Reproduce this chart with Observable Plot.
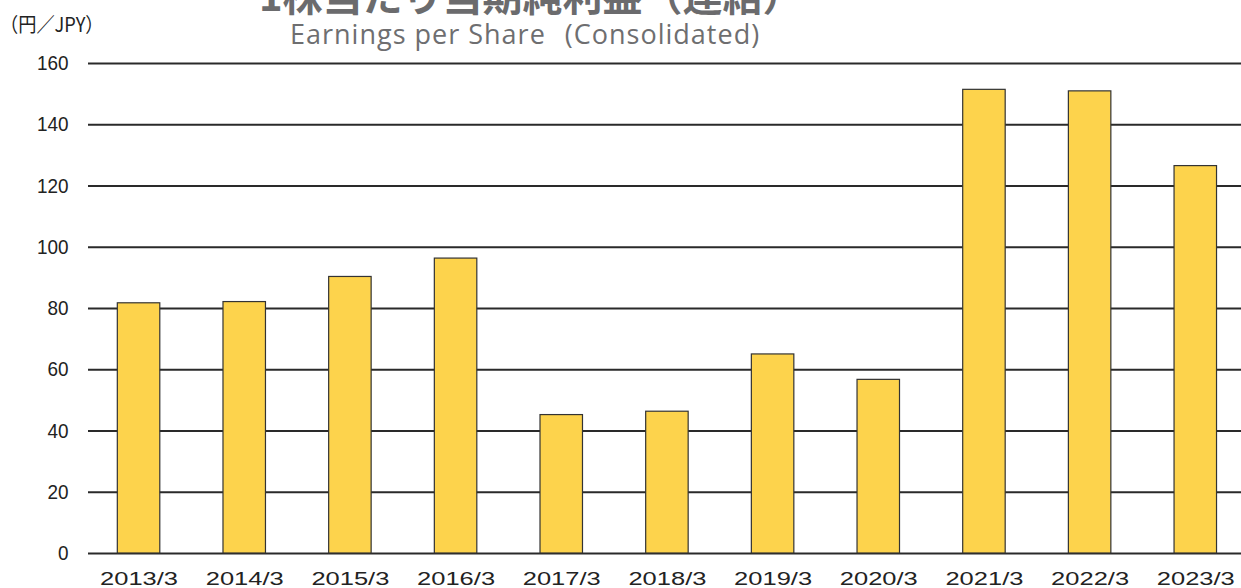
<!DOCTYPE html>
<html><head><meta charset="utf-8">
<script src="https://cdn.jsdelivr.net/npm/d3@7"></script>
<script src="https://cdn.jsdelivr.net/npm/@observablehq/plot@0.6"></script>
<style>
body{margin:0;background:#fff;}
#wrap{width:1241px;position:relative;overflow:hidden;}
#header{position:relative;height:50px;}
.t{position:absolute;white-space:nowrap;line-height:1;}
#unit{left:0;top:13.5px;font-family:"Noto Sans CJK JP",sans-serif;font-size:20px;color:#222;transform:scaleX(0.91);transform-origin:0 0;}
#title{left:259px;top:-26px;font-family:"Noto Sans CJK JP",sans-serif;font-weight:700;font-size:40px;color:#6b6b6d;}
#subtitle{left:290px;top:19.5px;font-family:"Open Sans",sans-serif;font-size:27px;letter-spacing:1px;color:#6e6e70;}
#subtitle .gap{display:inline-block;width:19px;}
</style></head><body>
<div id="wrap">
<div id="header">
<div class="t" id="unit">（円／JPY）</div>
<div class="t" id="title">1株当たり当期純利益（連結）</div>
<div class="t" id="subtitle">Earnings per Share<span class="gap"></span>(Consolidated)</div>
</div>
<div id="chart"></div>
</div>
<script>
const periods = ["2013/3","2014/3","2015/3","2016/3","2017/3","2018/3","2019/3","2020/3","2021/3","2022/3","2023/3"];
const eps = [81.7, 82.1, 90.3, 96.3, 45.2, 46.3, 65.0, 56.7, 151.4, 150.9, 126.5];
const yTicks = [0, 20, 40, 60, 80, 100, 120, 140, 160];

const data = periods.map((p, i) => ({period: p, eps: eps[i]}));

const chart = Plot.plot({
  width: 1241,
  height: 538,
  marginTop: 13,
  marginBottom: 35,
  marginLeft: 88,
  marginRight: 0,
  style: {fontFamily: "'Liberation Sans', Arial, sans-serif", background: "#fff", color: "#222"},
  x: {domain: periods, paddingInner: 0.598, paddingOuter: 0.2545, align: 0.545, round: false, label: null},
  y: {domain: [0, 160], label: null},
  marks: [
    Plot.ruleY(yTicks, {stroke: "#2a2a2a", strokeWidth: 1.8}),
    Plot.barY(data, {x: "period", y: "eps", fill: "#fdd34c", stroke: "#333", strokeWidth: 1.2}),
    Plot.axisY(yTicks, {tickSize: 0, tickPadding: 20, fontSize: 21, label: null, fill: "#222"}),
    Plot.axisX({tickSize: 0, tickPadding: 18, fontSize: 18.5, label: null, fill: "#222"})
  ]
});
document.getElementById("chart").appendChild(chart);
d3.select(chart).selectAll('g[aria-label="x-axis tick label"] text')
  .attr("textLength", 78).attr("lengthAdjust", "spacingAndGlyphs");
d3.select(chart).selectAll('g[aria-label="y-axis tick label"] text')
  .each(function() {
    const w = this.getComputedTextLength();
    d3.select(this).attr("textLength", w * 0.9).attr("lengthAdjust", "spacingAndGlyphs");
  });
</script>
</body></html>
